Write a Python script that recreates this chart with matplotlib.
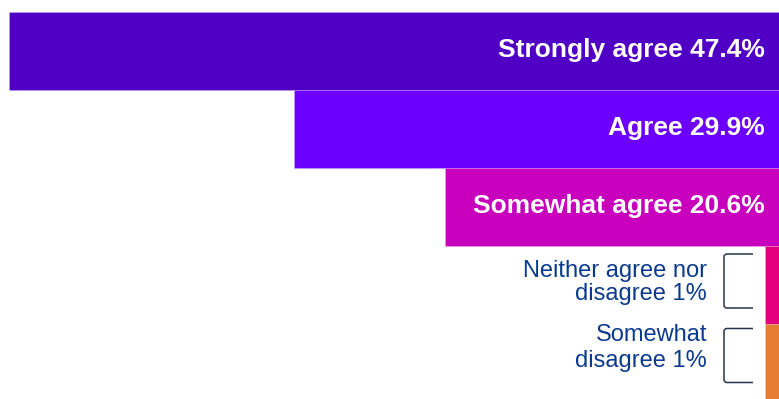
import matplotlib
matplotlib.use("Agg")
import matplotlib.pyplot as plt
from matplotlib.path import Path
from matplotlib.patches import PathPatch

# ---- data ----
categories = ["Strongly agree", "Agree", "Somewhat agree",
              "Neither agree nor disagree", "Somewhat disagree"]
values = [47.4, 29.9, 20.6, 1, 1]
value_labels = ["47.4%", "29.9%", "20.6%", "1%", "1%"]
# how the small-category labels are broken into lines
small_label_lines = {
    3: ["Neither agree nor", "disagree 1%"],
    4: ["Somewhat", "disagree 1%"],
}
colors = ["#5000C4", "#6B00FF", "#C800BE", "#E5007D", "#E57E32"]

# ---- layout ----
W, H, DPI = 779, 399, 100
PX_PER_UNIT = 16.29      # horizontal pixels per percentage point
RIGHT_OVERHANG = 2       # bars end just beyond the right edge (px)
BAR_PX = 78
TOP_PX = 12

fig = plt.figure(figsize=(W / DPI, H / DPI), dpi=DPI)
ax = fig.add_axes([0, 0, 1, 1])
ax.axis("off")

# x grows to the left (bars anchored at right edge)
ax.set_xlim((W + RIGHT_OVERHANG) / PX_PER_UNIT, RIGHT_OVERHANG / PX_PER_UNIT)
c0 = TOP_PX + BAR_PX / 2
ax.set_ylim((H - c0) / BAR_PX, (0 - c0) / BAR_PX)

ypos = list(range(len(values)))
ax.barh(ypos, values, height=1.0, left=0, color=colors,
        edgecolor=(1, 1, 1, 0.2), linewidth=0.6)

FONT = "Liberation Sans"
TEXT_BLUE = "#0B3A8E"

# big bold labels inside bars
for i in range(3):
    ax.annotate(f"{categories[i]} {value_labels[i]}", xy=(0, ypos[i]),
                xytext=(-16, -6.5), textcoords="offset pixels",
                ha="right", va="baseline", color="white",
                fontsize=19, fontweight="bold", family=FONT,
                annotation_clip=False)

# small labels with brackets
line_offsets = {3: [8.3, -15.3], 4: [21.8, -3.8]}
bracket_px = {3: (-31, 23), 4: (-34.5, 19.5)}


def xd(px_from_right):
    return px_from_right / PX_PER_UNIT


for i, lines in small_label_lines.items():
    for line, off in zip(lines, line_offsets[i]):
        ax.annotate(line, xy=(0, ypos[i]), xytext=(-74, off),
                    textcoords="offset pixels", ha="right", va="baseline",
                    color=TEXT_BLUE, fontsize=17, family=FONT,
                    annotation_clip=False)
    top, bot = bracket_px[i]
    yt = ypos[i] + top / BAR_PX
    yb = ypos[i] + bot / BAR_PX
    r_x = xd(3)
    r_y = 3 / BAR_PX
    xl = xd(RIGHT_OVERHANG + 779 - 724)
    xr = xd(RIGHT_OVERHANG + 779 - 753)
    verts = [(xr, yt), (xl - r_x, yt), (xl, yt), (xl, yt + r_y),
             (xl, yb - r_y), (xl, yb), (xl - r_x, yb), (xr, yb)]
    codes = [Path.MOVETO, Path.LINETO, Path.CURVE3, Path.CURVE3,
             Path.LINETO, Path.CURVE3, Path.CURVE3, Path.LINETO]
    # note: x axis is inverted, so "xl - r_x" is to the right of xl
    ax.add_patch(PathPatch(Path(verts, codes), fill=False,
                           edgecolor="#26344A", linewidth=1.1,
                           capstyle="butt"))

fig.savefig("out.png", dpi=DPI)
